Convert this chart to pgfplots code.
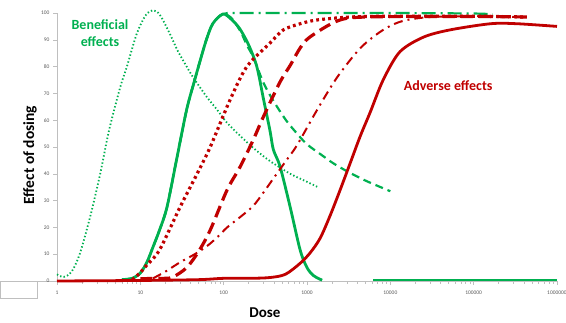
\documentclass[border=0pt]{standalone}
\usepackage{pgfplots}
\pgfplotsset{compat=1.18}
\usepackage{fontspec}
\setmainfont{Carlito}
\definecolor{bgreen}{HTML}{00B050}
\definecolor{ared}{HTML}{C00000}
\definecolor{axgray}{HTML}{BFBFBF}
\begin{document}
\begin{tikzpicture}[x=1pt,y=1pt]
\useasboundingbox (0,0) rectangle (566,322);
\draw[axgray,line width=0.6pt] (0,24) rectangle (37,41);
\draw[axgray,line width=0.6pt] (37,41) -- (57,41);
\begin{axis}[
  at={(57pt,41pt)}, anchor=south west,
  scale only axis, width=500pt, height=268pt,
  xmode=log, log basis x=10,
  xmin=1, xmax=1000000, ymin=0, ymax=100,
  axis lines=left, axis line style={axgray,line width=0.6pt,-},
  clip=false,
  tick align=outside,
  major tick length=4pt, minor tick length=2.5pt,
  every tick/.style={axgray,line width=0.5pt},
  xtick={1,10,100,1000,10000,100000,1000000},
  xticklabels={1,10,100,1000,10000,100000,1000000},
  minor xtick={2,3,4,5,6,7,8,9,20,30,40,50,60,70,80,90,200,300,400,500,600,700,800,900,2000,3000,4000,5000,6000,7000,8000,9000,20000,30000,40000,50000,60000,70000,80000,90000,200000,300000,400000,500000,600000,700000,800000,900000},
  ytick={0,10,...,100},
  /pgf/number format/assume math mode=true,
  tick label style={font=\fontsize{5.5}{6}\selectfont, text=black!65},
  xticklabel style={yshift=-2pt},
  xlabel={Dose}, ylabel={Effect of dosing},
  xlabel style={font=\fontsize{15}{16}\selectfont\bfseries, at={(axis description cs:0.416,-0.119)}, anchor=center},
  ylabel style={font=\fontsize{15.5}{16}\selectfont\bfseries, at={(axis description cs:-0.054,0.47)}, anchor=center, rotate=0},
]
% green dotted
\addplot[bgreen, line width=1.8pt, dash pattern=on 1.4pt off 2.2pt, smooth] coordinates {
(1,2.5) (1.2,1.5) (1.5,3.5) (1.89,10.4) (2.5,24) (3.3,40) (4.2,56) (5.7,72) (6.9,80) (9,92) (11.5,99) (14,101) (17,99.5) (22,93) (28,86) (36,80) (43,76) (63,68.6) (83,64) (110,59) (160,54) (220,50) (350,45) (630,40) (1000,37) (1360,35)};
% green dashed
\addplot[bgreen, line width=2.2pt, dash pattern=on 8pt off 5pt, smooth] coordinates {
(6,0.5) (8,1) (10,3) (12,7) (14.2,12.7) (17,19) (20.9,27.6) (27.5,46) (36,64) (44,74) (52,82) (62,90) (74,96) (98,99.6) (125,98) (160,93) (190,88) (226,83.6) (300,74) (390,67.5) (560,60) (760,55) (1000,51) (1500,47) (2050,44) (3000,41) (5000,37.5) (10000,33.5)};
% green dash-dot
\addplot[bgreen, line width=2.2pt, dash pattern=on 14pt off 5pt on 2pt off 5pt, smooth] coordinates {
(6,0.5) (8,1) (10,3) (12,7) (14.2,12.7) (17,19) (20.9,27.6) (27.5,46) (36,64) (44,74) (52,82) (62,90) (74,96) (98,99.6) (150,100) (1000,100) (10000,100) (100000,99.8) (170000,99.5)};
% green solid
\addplot[bgreen, line width=2.8pt, smooth] coordinates {
(6,0.5) (8,1) (10,3) (12,7) (14.2,12.7) (17,19) (20.9,27.6) (27.5,46) (36,64) (44,74) (52,82) (62,90) (74,96) (98,99.6) (125,97.5) (157,94) (200,88) (250,80) (300,68) (360,56) (395,49) (475,42.7) (627,27.7) (827,11.6) (1000,5) (1200,2) (1520,0.3)};
\addplot[bgreen, line width=2.2pt] coordinates {(6200,0.4) (1000000,0.4)};
% red dotted
\addplot[ared, line width=3.2pt, dash pattern=on 2.8pt off 3.2pt, smooth] coordinates {
(8,0.5) (9.9,3) (12,6) (17,11.6) (30,27.6) (48,40) (69,50) (119,67.5) (190,80) (360,88.8) (520,93.7) (830,96) (1320,97.4) (3300,98.5) (10000,98.8) (100000,98.8) (400000,98.5)};
% red dashed
\addplot[ared, line width=3.2pt, dash pattern=on 12pt off 6pt, smooth] coordinates {
(10,0.8) (15,1) (20,1) (24.8,1.5) (36,5) (50,11) (69,19) (110,34) (157,42.5) (226,52.6) (297,61) (470,74) (630,80.5) (830,87) (1080,91) (2300,97) (5000,98.5) (100000,98.7) (450000,98.5)};
% red dash-dot
\addplot[ared, line width=2pt, dash pattern=on 9pt off 5pt on 2pt off 5pt, smooth] coordinates {
(14.2,1) (20,3.5) (30,7) (45,10) (63,13) (85,16.5) (110,20) (160,24) (226,28) (300,33) (390,38) (550,44.5) (760,50.7) (1320,63.8) (2300,76) (4400,87) (8200,93.7) (14000,97) (30000,98.5) (100000,98.8) (400000,98.5)};
% red solid
\addplot[ared, line width=2.8pt, smooth] coordinates {
(1,0) (10,0.2) (50,0.5) (100,1) (207,1) (361,1.3) (550,2.5) (827,6.6) (1090,10.5) (1440,16) (1900,24.5) (2500,34) (3300,44) (4350,54) (5740,63) (8200,75) (13000,85.5) (25000,91) (52000,93.7) (160000,96) (330000,96) (1000000,95)};
\node[text=bgreen, font=\fontsize{14}{16.5}\selectfont\bfseries, align=center] at (axis cs:3.28,92.5) {Beneficial\\effects};
\node[text=ared, font=\fontsize{14}{16}\selectfont\bfseries] at (axis cs:49500,72.8) {Adverse effects};
\end{axis}
\end{tikzpicture}
\end{document}
